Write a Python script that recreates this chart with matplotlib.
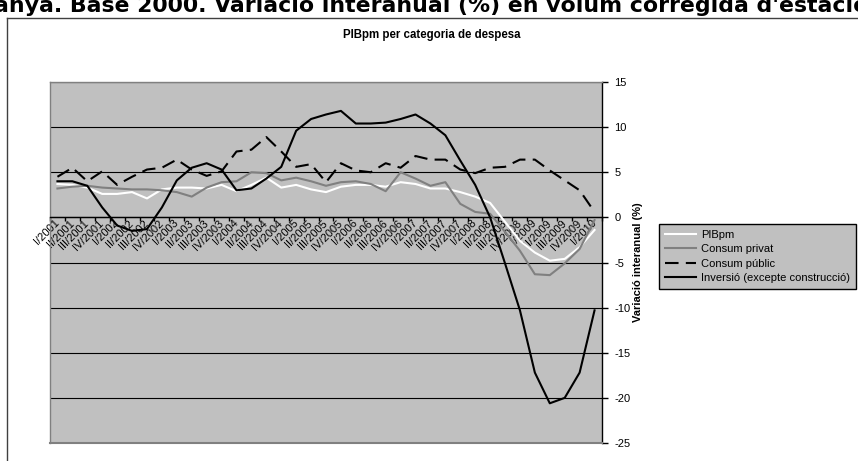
import matplotlib
matplotlib.use("Agg")
import matplotlib.pyplot as plt
from matplotlib.lines import Line2D
import numpy as np

categories = []
for yr in range(2001, 2010):
    for q in ["I", "II", "III", "IV"]:
        categories.append(f"{q}/{yr}")
categories.append("I/2010")

pib = [3.7, 3.6, 3.3, 2.6, 2.6, 2.8, 2.1, 3.1, 3.3, 3.3, 3.2, 3.6, 2.9, 3.6, 4.4, 3.3,
       3.6, 3.1, 2.8, 3.4, 3.6, 3.6, 3.4, 3.9, 3.7, 3.2, 3.2, 2.8, 2.3, 1.6, -0.5, -2.6,
       -3.9, -4.8, -4.6, -3.3, -1.4]
consum_privat = [3.2, 3.4, 3.5, 3.3, 3.2, 3.1, 3.1, 3.0, 2.8, 2.3, 3.3, 3.9, 4.0, 5.0, 4.9, 4.1,
                 4.4, 4.0, 3.5, 3.9, 4.0, 3.7, 2.9, 5.0, 4.3, 3.5, 3.9, 1.5, 0.6, 0.4, -1.6, -3.7,
                 -6.3, -6.4, -5.1, -3.5, -0.3]
consum_public = [4.5, 5.5, 4.0, 5.1, 3.6, 4.5, 5.3, 5.5, 6.4, 5.3, 4.6, 5.1, 7.3, 7.5, 8.9, 7.3,
                 5.6, 5.9, 3.9, 6.0, 5.2, 5.0, 6.0, 5.5, 6.8, 6.4, 6.4, 5.3, 4.9, 5.5, 5.6, 6.4,
                 6.4, 5.2, 4.1, 3.0, 0.6]
inversio = [4.0, 4.0, 3.5, 1.1, -0.9, -1.5, -1.3, 1.1, 4.1, 5.5, 6.0, 5.3, 3.0, 3.2, 4.3, 5.6,
            9.6, 10.9, 11.4, 11.8, 10.4, 10.4, 10.5, 10.9, 11.4, 10.4, 9.1, 6.3, 3.6, 0.0, -5.1, -10.3,
            -17.2, -20.6, -20.0, -17.2, -10.3]

series_names = ["PIBpm", "Consum privat", "Consum públic", "Inversió (excepte construcció)"]
yticks = [15, 10, 5, 0, -5, -10, -15, -20, -25]

plt.rcParams['font.family'] = ['Liberation Sans', 'DejaVu Sans']

W, H = 858, 461
fig = plt.figure(figsize=(W / 100, H / 100), dpi=100)
fig.patch.set_facecolor("white")

# heading (cut off at the edges in the source image)
fig.text(-6 / W, 1 - 12 / H, "anya. Base 2000. Variació interanual (%) en volum corregida d'estacionalitat",
         fontsize=15.8, fontweight="bold", family="DejaVu Sans", ha="left", va="baseline")

# chart frame
fig.add_artist(Line2D([7 / W, 7 / W], [0, 1 - 18 / H], transform=fig.transFigure, color="#404040", lw=1))
fig.add_artist(Line2D([7 / W, 1], [1 - 18 / H, 1 - 18 / H], transform=fig.transFigure, color="#404040", lw=1))

fig.text(432 / W, 1 - 35 / H, "PIBpm per categoria de despesa", fontsize=8.3, fontweight="bold",
         ha="center", va="center")

L, R, T, B = 50, 602, 82, 443
ax = fig.add_axes([L / W, 1 - B / H, (R - L) / W, (B - T) / H])
ax.set_facecolor("#C0C0C0")

x = np.arange(len(categories))
ax.plot(x, pib, color="white", lw=1.5, zorder=3, label=series_names[0])
ax.plot(x, consum_privat, color="#808080", lw=1.5, zorder=3, label=series_names[1])
ax.plot(x, consum_public, color="black", lw=1.5, zorder=3, dashes=(6.5, 3.5), label=series_names[2])
ax.plot(x, inversio, color="black", lw=1.5, zorder=3, label=series_names[3])

ax.set_xlim(-0.5, len(categories) - 0.5)
ax.set_ylim(-25, 15)

ax.yaxis.tick_right()
ax.yaxis.set_label_position("right")
ax.set_yticks(yticks)
ax.set_yticklabels([str(v) for v in yticks], fontsize=8)
ax.tick_params(axis="y", direction="out", length=4, width=1, color="black", pad=5, labelcolor="black")
ax.set_ylabel("Variació interanual (%)", fontsize=8, fontweight="bold", labelpad=2)
ax.yaxis.grid(True, color="black", lw=0.8)
ax.set_axisbelow(True)

ax.spines["bottom"].set_position(("data", 0))
ax.spines["bottom"].set_color("black")
ax.spines["bottom"].set_linewidth(1)
ax.spines["right"].set_color("black")
ax.spines["right"].set_linewidth(1)
for s in ["left", "top"]:
    ax.spines[s].set_color("#808080")
    ax.spines[s].set_linewidth(1)
ax.axhline(-25, color="#808080", lw=1.5, clip_on=False, zorder=2.6)

ax.set_xticks(np.arange(-0.5, len(categories), 1))
ax.set_xticklabels([])
ax.tick_params(axis="x", which="major", direction="out", length=3, width=1, color="black")
ax.set_xticks(x, categories, minor=True)
ax.tick_params(axis="x", which="minor", length=0, pad=3, labelsize=8)
for lab in ax.get_xticklabels(minor=True):
    lab.set_rotation(45)
    lab.set_ha("right")
    lab.set_va("center")
    lab.set_rotation_mode("anchor")

leg = fig.legend(loc="upper left", bbox_to_anchor=(659 / W, 1 - 224 / H), fontsize=8,
                 frameon=True, fancybox=False, edgecolor="black", facecolor="#C0C0C0",
                 framealpha=1, handlelength=2.8, handletextpad=0.4, borderpad=0.55,
                 labelspacing=0.38, borderaxespad=0)
leg.get_frame().set_linewidth(1)

fig.savefig("out.png", dpi=100)
